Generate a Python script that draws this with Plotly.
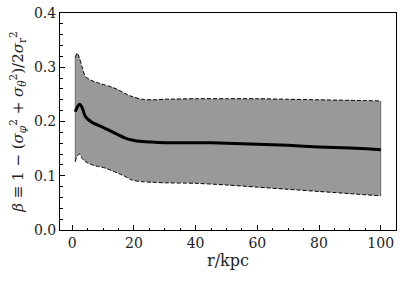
import plotly.graph_objects as go

r = [1, 1.6, 2.4, 3.2, 4.3, 6.5, 8.5, 10.8, 13, 15.1, 17, 19.4, 22.7, 26, 30, 40, 50, 60, 70, 80, 90, 100]
beta_mean = [0.218, 0.226, 0.232, 0.226, 0.209, 0.198, 0.193, 0.187, 0.181, 0.175, 0.170, 0.166, 0.163,
             0.162, 0.161, 0.161, 0.160, 0.158, 0.156, 0.153, 0.151, 0.148]
beta_upper = [0.318, 0.326, 0.316, 0.301, 0.283, 0.275, 0.271, 0.267, 0.263, 0.258, 0.252, 0.246, 0.241,
              0.240, 0.241, 0.242, 0.242, 0.242, 0.241, 0.240, 0.239, 0.238]
beta_lower = [0.126, 0.136, 0.140, 0.132, 0.126, 0.120, 0.117, 0.114, 0.109, 0.104, 0.099, 0.092, 0.089,
              0.088, 0.087, 0.086, 0.083, 0.079, 0.075, 0.071, 0.067, 0.063]

FONT = "DejaVu Serif"
SP = dict(shape="spline", smoothing=0.8)

fig = go.Figure()
fig.add_trace(go.Scatter(x=r, y=beta_lower, mode="lines",
                         line=dict(color="rgba(0,0,0,0)", width=0, **SP),
                         hoverinfo="skip", showlegend=False))
fig.add_trace(go.Scatter(x=r, y=beta_upper, mode="lines", fill="tonexty", fillcolor="#999999",
                         line=dict(color="rgba(0,0,0,0)", width=0, **SP),
                         hoverinfo="skip", showlegend=False))
for i in (0, -1):
    fig.add_trace(go.Scatter(x=[r[i], r[i]], y=[beta_lower[i], beta_upper[i]], mode="lines",
                             line=dict(color="#6e6e6e", width=1), hoverinfo="skip", showlegend=False))
for yy in (beta_upper, beta_lower):
    fig.add_trace(go.Scatter(x=r, y=yy, mode="lines",
                             line=dict(color="black", width=1, dash="4px,2px", **SP),
                             showlegend=False))
fig.add_trace(go.Scatter(x=r, y=beta_mean, mode="lines",
                         line=dict(color="black", width=3, **SP),
                         showlegend=False))

axis_common = dict(showline=True, linecolor="black", linewidth=1, mirror=True, showgrid=False,
                   zeroline=False, ticks="inside", ticklen=5, tickcolor="black", automargin=False,
                   tickfont=dict(family=FONT, size=14, color="#222222"))
fig.update_xaxes(range=[-3.95, 104.95], tickvals=[0, 20, 40, 60, 80, 100],
                 minor=dict(ticks="inside", dtick=5, tick0=0, ticklen=2.5, tickcolor="black"),
                 title=dict(text="r/kpc", font=dict(family=FONT, size=16, color="#222222"), standoff=4),
                 **axis_common)
fig.update_yaxes(range=[0, 0.4], tickvals=[0.0, 0.1, 0.2, 0.3, 0.4], ticktext=["0.0", "0.1", "0.2", "0.3", "0.4"],
                 minor=dict(ticks="inside", dtick=0.02, tick0=0, ticklen=2.5, tickcolor="black"),
                 title=dict(text="<i>β</i> ≡ 1 − (<i>σ</i><sub><i>φ</i></sub><sup>2</sup> + <i>σ</i><sub><i>θ</i></sub><sup>2</sup>)/2<i>σ</i><sub>r</sub><sup>2</sup>",
                            font=dict(family=FONT, size=15, color="#222222"), standoff=6),
                 **axis_common)
fig.update_layout(width=407, height=281, margin=dict(l=60, r=11, t=13, b=51),
                  font=dict(family=FONT, color="#222222"),
                  plot_bgcolor="white", paper_bgcolor="white")
fig.write_html("out.html", config={"displayModeBar": False},
               post_script="document.body.style.margin='0';document.body.style.padding='0';")
